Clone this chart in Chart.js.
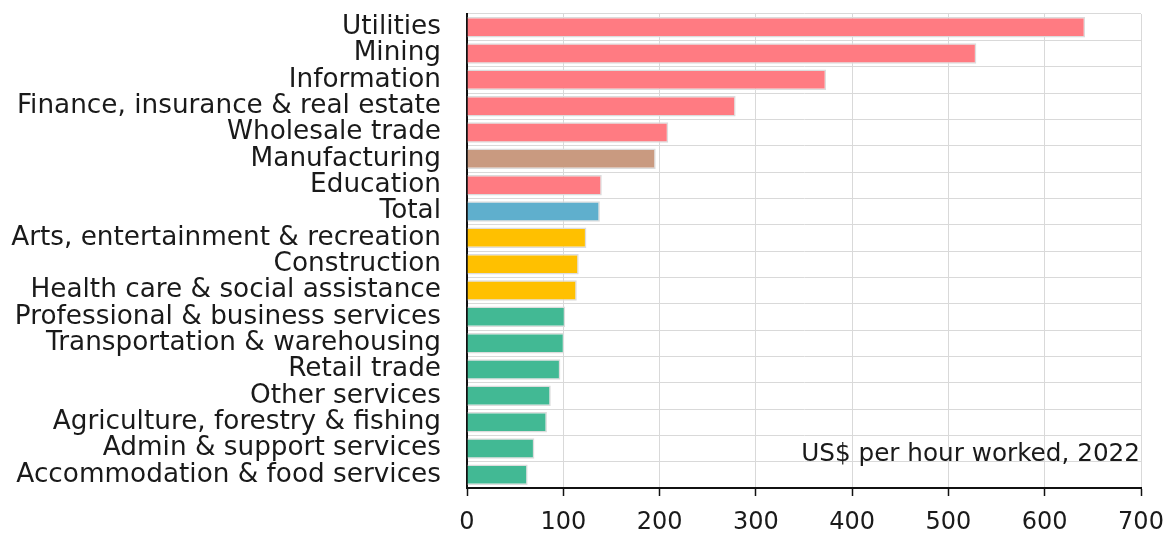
<!DOCTYPE html>
<html>
<head>
<meta charset="utf-8">
<script src="https://cdn.jsdelivr.net/npm/chart.js@4/dist/chart.umd.min.js"></script>
<style>
  html, body { margin: 0; padding: 0; background: #fff; }
  #wrap { width: 1164px; height: 535px; position: relative; }
</style>
</head>
<body>
<div id="wrap"><canvas id="chart"></canvas></div>
<script>
const industries = [
    'Utilities', 'Mining', 'Information', 'Finance, insurance & real estate',
    'Wholesale trade', 'Manufacturing', 'Education', 'Total',
    'Arts, entertainment & recreation', 'Construction', 'Health care & social assistance',
    'Professional & business services', 'Transportation & warehousing', 'Retail trade',
    'Other services', 'Agriculture, forestry & fishing', 'Admin & support services',
    'Accommodation & food services'
]
const productivity = [642, 529, 373, 279, 209, 196, 140, 138, 124, 116, 114, 102, 101, 97, 87, 83, 70, 63]
const groups = ['high', 'high', 'high', 'high', 'high', 'manuf', 'high', 'total',
    'mid', 'mid', 'mid', 'low', 'low', 'low', 'low', 'low', 'low', 'low']
const xTicks = [0, 100, 200, 300, 400, 500, 600, 700]
const note = 'US$ per hour worked, 2022'

const palette = {
    high: '#ff7b82',
    manuf: '#c99a80',
    total: '#5fafcd',
    mid: '#ffc000',
    low: '#42b994'
}

const fontFamily = '"DejaVu Sans", sans-serif'

// right-aligned unit note in the lower right of the plot
const notePlugin = {
    id: 'note',
    afterDraw(chart) {
        const { ctx, chartArea } = chart
        ctx.save()
        ctx.font = '24.7px ' + fontFamily
        ctx.fillStyle = '#1a1a1a'
        ctx.textAlign = 'right'
        ctx.textBaseline = 'middle'
        ctx.fillText(note, chartArea.right - 1, chartArea.bottom - 33)
        ctx.restore()
    }
}

const ctx = document.getElementById('chart').getContext('2d')

new Chart(ctx, {
    type: 'bar',
    data: {
        labels: industries,
        datasets: [{
            data: productivity,
            backgroundColor: groups.map(g => palette[g]),
            borderColor: '#dcdcdc',
            borderWidth: 1.5,
            barPercentage: 0.78,
            categoryPercentage: 1
        }]
    },
    options: {
        indexAxis: 'y',
        responsive: true,
        maintainAspectRatio: false,
        animation: false,
        layout: { padding: { top: 14, right: 23, left: 0, bottom: 0 } },
        plugins: {
            legend: { display: false },
            tooltip: { enabled: false }
        },
        scales: {
            x: {
                min: 0,
                max: 700,
                afterBuildTicks(scale) {
                    scale.ticks = xTicks.map(v => ({ value: v }))
                },
                afterFit(scale) {
                    scale.height = 47
                    scale.paddingLeft = 0
                    scale.paddingRight = 0
                },
                border: { color: '#111', width: 2 },
                grid: {
                    color: '#d9d9d9',
                    borderDash: [4, 3],
                    tickColor: '#111',
                    tickLength: 8,
                    tickBorderDash: [],
                    tickWidth: 1.5
                },
                ticks: {
                    color: '#1a1a1a',
                    padding: 12,
                    font: { family: fontFamily, size: 24 }
                }
            },
            y: {
                afterFit(scale) {
                    scale.width = 467
                    scale.paddingTop = 0
                    scale.paddingBottom = 0
                },
                border: { color: '#111', width: 2 },
                grid: {
                    color: '#d9d9d9',
                    borderDash: [4, 3],
                    drawTicks: false,
                    offset: true
                },
                ticks: {
                    color: '#1a1a1a',
                    padding: 26,
                    autoSkip: false,
                    font: { family: fontFamily, size: 26.3 }
                }
            }
        }
    },
    plugins: [notePlugin]
})
</script>
</body>
</html>
